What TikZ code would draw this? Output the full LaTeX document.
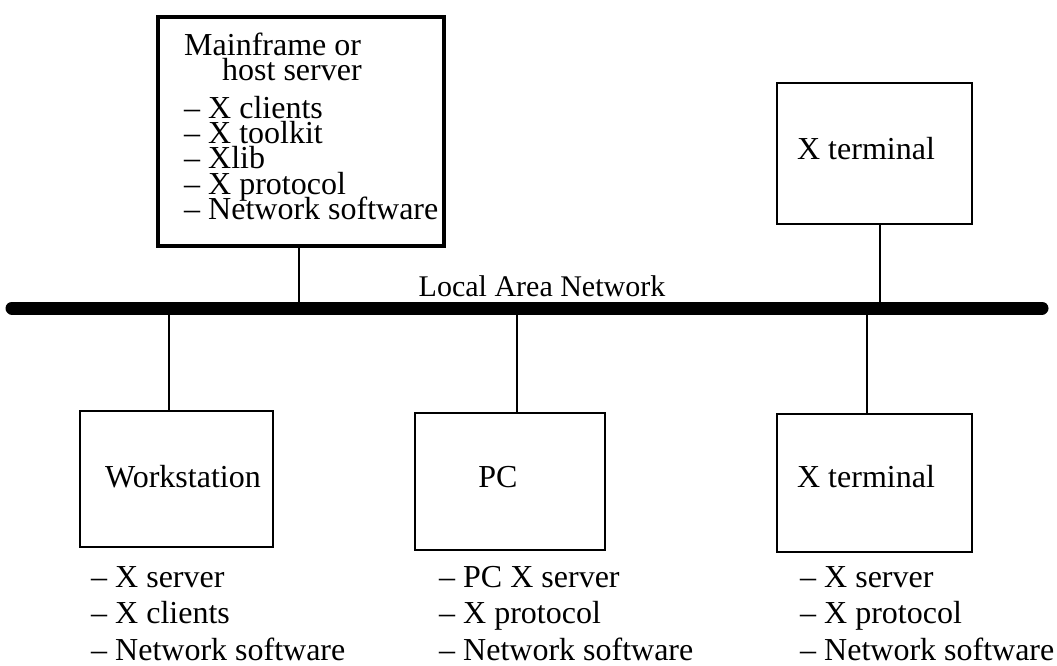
\documentclass[tikz,border=0pt]{standalone}
\usepackage{fontspec}
\setmainfont{Liberation Serif}
\lineskiplimit=-100pt
\begin{document}
\begin{tikzpicture}[x=1pt,y=-1pt,
  box/.style={draw, line width=2pt, inner sep=0pt, minimum width=#1},
  thickbox/.style={draw, line width=4.5pt, inner sep=0pt},
  lbl/.style={inner sep=0pt, anchor=base, font=\fontsize{32}{32}\selectfont},
  mainlist/.style={inner sep=0pt, anchor=base west, align=left, font=\fontsize{32}{25.3}\selectfont},
  botlist/.style={inner sep=0pt, anchor=base west, align=left, font=\fontsize{32}{36.5}\selectfont},
  conn/.style={line width=2pt},
  lan/.style={line width=13pt, line cap=round}]
\useasboundingbox (0,0) rectangle (1057,666);
% boxes
\node[thickbox, minimum width=286pt, minimum height=229pt] (main) at (301,131.5) {};
\node[box=195pt, minimum height=140pt] (xt1) at (874,153.5) {};
\node[box=193pt, minimum height=136pt] (ws) at (176.5,479) {};
\node[box=190pt, minimum height=137pt] (pc) at (510,481.5) {};
\node[box=195pt, minimum height=138pt] (xt2) at (874.5,483) {};
% mainframe text (base anchor = last line)
\node[mainlist] (mtext) at (184,219.5) {Mainframe or\\\hspace*{38pt}host server\\[12.7pt]
-- X clients\\-- X toolkit\\-- Xlib\\-- X protocol\\-- Network software};
% box labels
\node[lbl] (t1) at (866,160) {X terminal};
\node[lbl] (t2) at (183,487) {Workstation};
\node[lbl] (t3) at (498,487) {PC};
\node[lbl] (t4) at (866,487) {X terminal};
\node[lbl, font=\fontsize{30}{30}\selectfont] (lanlabel) at (542,296) {Local Area Network};
% lists below
\node[botlist] (wl) at (91,660) {-- X server\\-- X clients\\-- Network software};
\node[botlist] (pl) at (439,660) {-- PC X server\\-- X protocol\\-- Network software};
\node[botlist] (xl) at (800,660) {-- X server\\-- X protocol\\-- Network software};
% LAN taps
\coordinate (lanL) at (12,308);
\coordinate (lanR) at (1042,308);
\coordinate (tm) at (299,308);
\coordinate (tx1) at (880,308);
\coordinate (tw) at (169,308);
\coordinate (tp) at (517,308);
\coordinate (tx2) at (867,308);
\draw[conn] (tm) -- (tm |- main.south);
\draw[conn] (tx1) -- (tx1 |- xt1.south);
\draw[conn] (tw) -- (tw |- ws.north);
\draw[conn] (tp) -- (tp |- pc.north);
\draw[conn] (tx2) -- (tx2 |- xt2.north);
\draw[lan] (lanL) -- (lanR);
\end{tikzpicture}
\end{document}
